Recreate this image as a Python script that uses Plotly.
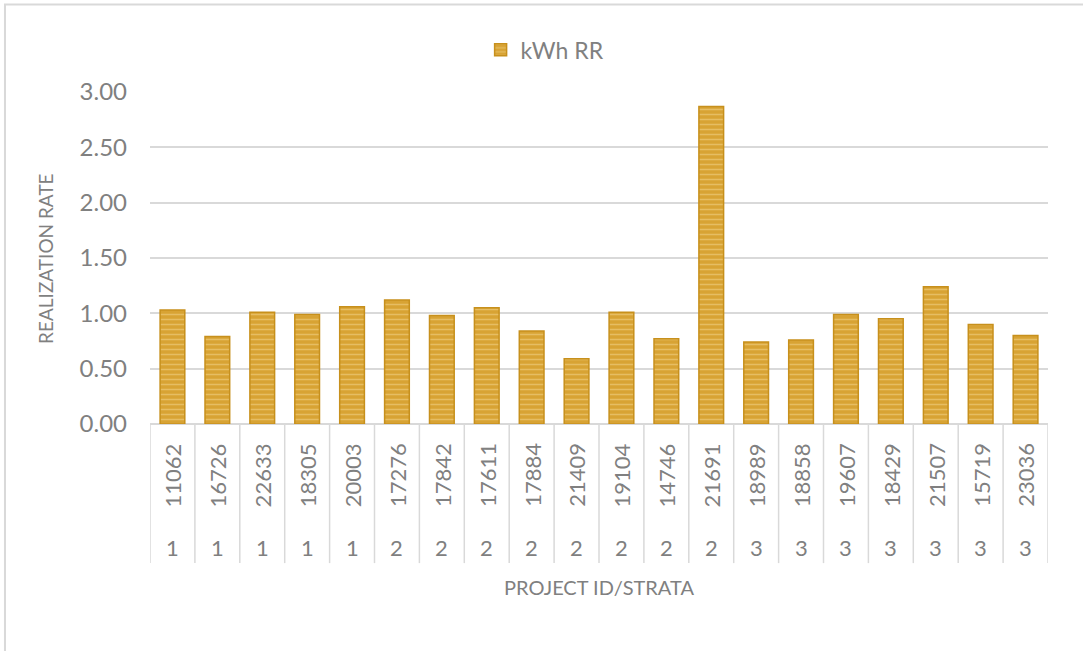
import plotly.graph_objects as go

project_ids = ["11062", "16726", "22633", "18305", "20003", "17276", "17842", "17611",
               "17884", "21409", "19104", "14746", "21691", "18989", "18858", "19607",
               "18429", "21507", "15719", "23036"]
strata = ["1", "1", "1", "1", "1", "2", "2", "2", "2", "2", "2", "2", "2",
          "3", "3", "3", "3", "3", "3", "3"]
kwh_rr = [1.03, 0.79, 1.01, 0.99, 1.06, 1.12, 0.98, 1.05, 0.84, 0.59,
          1.01, 0.77, 2.87, 0.74, 0.76, 0.99, 0.95, 1.24, 0.90, 0.80]
y_ticks = [0, 0.5, 1.0, 1.5, 2.0, 2.5, 3.0]

FONT = "Lato"
GRAY = "#808080"
GRID = "#D9D9D9"

fig = go.Figure()
fig.add_trace(go.Bar(
    x=project_ids, y=kwh_rr, name="kWh RR",
    marker=dict(color="#D8A334", line=dict(color="#C7901C", width=1.5),
                pattern=dict(shape="-", size=5, solidity=0.3,
                             fgcolor="#F4D792", fillmode="overlay")),
))

annotations = []
shapes = []
n = len(project_ids)
for i, (pid, st) in enumerate(zip(project_ids, strata)):
    annotations.append(dict(x=i, y=-0.154, xref="x", yref="paper", text=pid,
                            textangle=-90, showarrow=False,
                            xanchor="center", yanchor="middle",
                            font=dict(family=FONT, size=22, color=GRAY)))
    annotations.append(dict(x=i, y=-0.372, xref="x", yref="paper", text=st,
                            showarrow=False, xanchor="center", yanchor="middle",
                            font=dict(family=FONT, size=22, color=GRAY)))
for i in range(n + 1):
    shapes.append(dict(type="line", xref="x", yref="paper", x0=i - 0.5, x1=i - 0.5,
                       y0=0, y1=-0.419, line=dict(color=GRID, width=1.5)))

annotations.append(dict(x=0.5, y=-0.49, xref="paper", yref="paper",
                        text="PROJECT ID/STRATA", showarrow=False,
                        xanchor="center", yanchor="middle",
                        font=dict(family=FONT, size=20, color=GRAY)))
annotations.append(dict(x=-0.117, y=0.5, xref="paper", yref="paper",
                        text="REALIZATION RATE", textangle=-90, showarrow=False,
                        xanchor="center", yanchor="middle",
                        font=dict(family=FONT, size=19, color=GRAY)))

# outer chart frame
shapes.append(dict(type="rect", xref="paper", yref="paper", x0=-0.1615, x1=1.2,
                   y0=-1.0, y1=1.2635, line=dict(color=GRID, width=2), layer="below"))

fig.update_layout(
    width=1083, height=651,
    margin=dict(l=150, r=35, t=92, b=227),
    paper_bgcolor="white", plot_bgcolor="white",
    bargap=0.45,
    showlegend=True,
    legend=dict(orientation="h", x=0.44, y=1.127, xanchor="center", yanchor="middle",
                font=dict(family=FONT, size=23, color=GRAY)),
    xaxis=dict(type="category", showticklabels=False, showgrid=False, zeroline=False,
               showline=False, ticks="", range=[-0.5, n - 0.5]),
    yaxis=dict(range=[0, 3.0], tickvals=y_ticks, tickformat=".2f",
               showgrid=True, gridcolor=GRID, gridwidth=1.5, zeroline=True,
               zerolinecolor=GRID, zerolinewidth=1.5, ticks="",
               ticklabelstandoff=22,
               tickfont=dict(family=FONT, size=24, color=GRAY)),
    annotations=annotations,
    shapes=shapes,
)

fig.write_html("out.html", config={"displayModeBar": False},
               post_script="document.body.style.margin='0';")
